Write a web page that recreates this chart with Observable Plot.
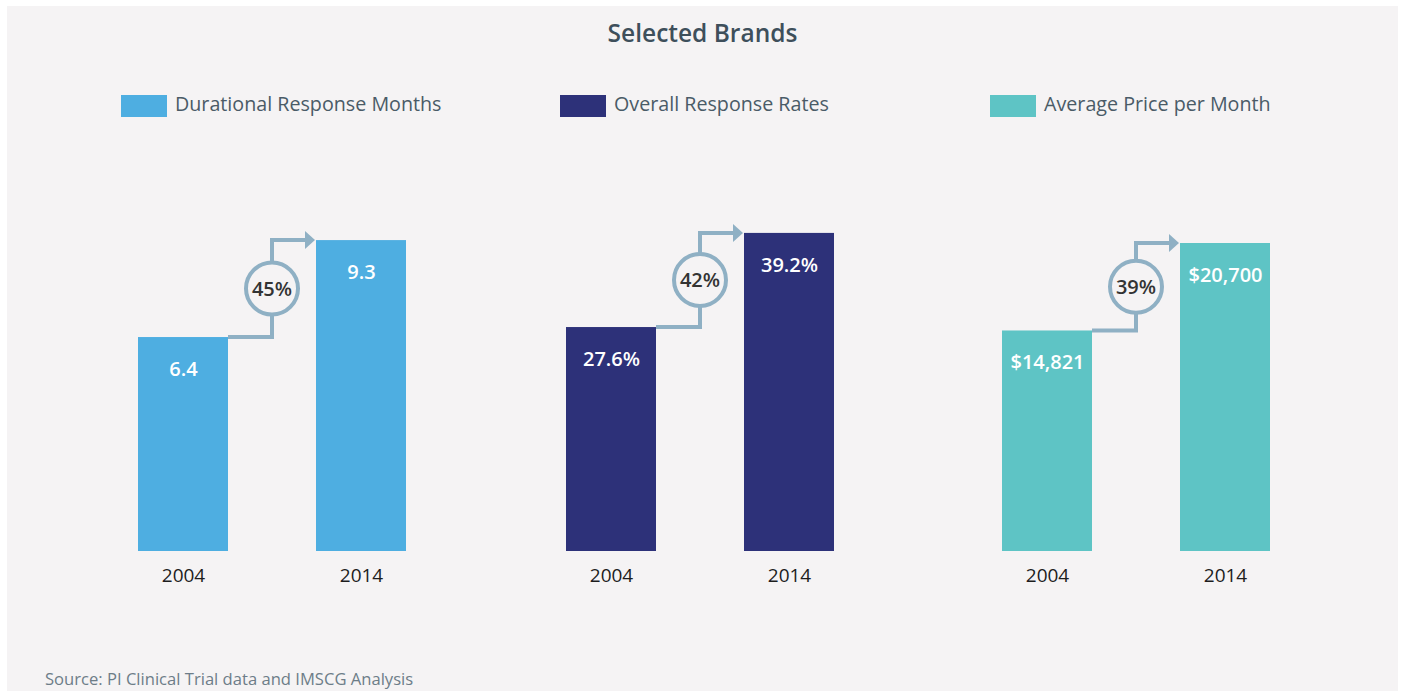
<!DOCTYPE html>
<html><head><meta charset="utf-8">
<script src="https://cdn.jsdelivr.net/npm/d3@7"></script>
<script src="https://cdn.jsdelivr.net/npm/@observablehq/plot@0.6"></script>
<style>
body{margin:0;background:#fff;font-family:"Open Sans",sans-serif;}
#panel{position:absolute;left:7px;top:6px;width:1391px;height:685px;background:#f5f3f4;overflow:hidden}
#title{position:absolute;left:0;width:100%;top:11px;text-align:center;font-size:24.5px;font-weight:600;color:#3e4f5b;line-height:32px}
.leg{position:absolute;top:87px;display:flex;align-items:center;font-size:19.7px;color:#4a5b67;line-height:22px}
.sw{width:46px;height:22px;margin-right:8px;position:relative;top:2px}
#source{position:absolute;left:38px;top:662px;font-size:16.6px;color:#6d7d88;line-height:22px}
</style></head>
<body>
<div id="panel">
  <div id="title"></div>
  <div id="legend"></div>
  <div id="charts"></div>
  <div id="source"></div>
</div>
<script>
// ---- data ----
const titleText = "Selected Brands";
const sourceText = "Source: PI Clinical Trial data and IMSCG Analysis";
const years = ["2004", "2014"];
const seriesNames = ["Durational Response Months", "Overall Response Rates", "Average Price per Month"];
const durationalMonths = [6.4, 9.3];
const responseRates = [27.6, 39.2];
const avgPricePerMonth = [14821, 20700];
const durationalLabels = ["6.4", "9.3"];
const responseLabels = ["27.6%", "39.2%"];
const priceLabels = ["$14,821", "$20,700"];
const changeLabels = ["45%", "42%", "39%"];

// ---- style / layout ----
const colors = ["#4eaee1", "#2d3179", "#5ec4c5"];
const connectorColor = "#8fb0c4";
const bg = "#f5f3f4";
const legendLeft = [114, 553, 983];
const chartLeft = [50, 478, 914];
const yMax = [10.17, 41.9, 22851];

const panels = [
  {name: seriesNames[0], values: durationalMonths, labels: durationalLabels},
  {name: seriesNames[1], values: responseRates, labels: responseLabels},
  {name: seriesNames[2], values: avgPricePerMonth, labels: priceLabels}
];

document.getElementById("title").textContent = titleText;
document.getElementById("source").textContent = sourceText;

const legend = document.getElementById("legend");
panels.forEach((p, i) => {
  const item = document.createElement("div");
  item.className = "leg";
  item.style.left = legendLeft[i] + "px";
  const sw = document.createElement("div");
  sw.className = "sw";
  sw.style.background = colors[i];
  const lab = document.createElement("span");
  lab.textContent = p.name;
  item.append(sw, lab);
  legend.append(item);
});

const charts = document.getElementById("charts");
panels.forEach((p, i) => {
  const data = years.map((yr, j) => ({year: yr, value: p.values[j], label: p.labels[j]}));
  const connector = (index, scales) => {
    const x = scales.x, y = scales.y;
    const bw = x.bandwidth ? x.bandwidth() : scales.scales.x.bandwidth;
    const xa = x(years[0]) + bw, xb = x(years[1]);
    const xm = (xa + xb) / 2;
    const ya = y(p.values[0]), yb = y(p.values[1]);
    const ym = (ya + yb) / 2;
    const r = 26;
    const g = d3.create("svg:g");
    g.append("path")
      .attr("d", `M${xa},${ya}H${xm}V${ym + r}M${xm},${ym - r}V${yb}H${xb - 9}`)
      .attr("fill", "none").attr("stroke", connectorColor).attr("stroke-width", 4);
    g.append("path")
      .attr("d", `M${xb - 11},${yb - 9}L${xb - 1},${yb}L${xb - 11},${yb + 9}Z`)
      .attr("fill", connectorColor);
    g.append("circle").attr("cx", xm).attr("cy", ym).attr("r", r)
      .attr("fill", bg).attr("stroke", connectorColor).attr("stroke-width", 4);
    g.append("text").attr("x", xm).attr("y", ym).attr("dy", "0.36em")
      .attr("text-anchor", "middle").attr("font-size", 20).attr("font-weight", 600)
      .attr("fill", "#333").text(changeLabels[i]);
    return g.node();
  };
  const chart = Plot.plot({
    width: 440,
    height: 470,
    marginLeft: 80,
    marginRight: 91,
    marginTop: 71,
    marginBottom: 59,
    style: {background: "transparent", fontSize: "19px", color: "#1d1d1d", fontFamily: "'Open Sans', sans-serif", overflow: "visible"},
    x: {domain: years, paddingInner: 0.497, paddingOuter: 0, tickSize: 0, tickPadding: 17, label: null},
    y: {domain: [0, yMax[i]], axis: null},
    marks: [
      Plot.barY(data, {x: "year", y: "value", fill: colors[i]}),
      Plot.text(data, {x: "year", y: "value", text: "label", dy: 32, fill: "white", fontSize: 20, fontWeight: 600}),
      connector
    ]
  });
  chart.style.position = "absolute";
  chart.style.left = chartLeft[i] + "px";
  chart.style.top = "134px";
  charts.append(chart);
});
</script>
</body></html>
